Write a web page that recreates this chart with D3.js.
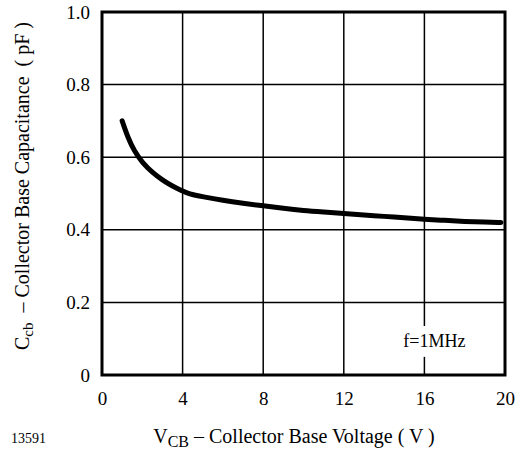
<!DOCTYPE html>
<html>
<head>
<meta charset="utf-8">
<script src="https://cdn.jsdelivr.net/npm/d3@7"></script>
<style>
  html, body { margin: 0; padding: 0; background: #fff; }
</style>
</head>
<body>
<div id="chart"></div>
<script>
// Data
const vcb = [1, 1.3, 1.6, 2, 2.5, 3, 3.5, 4, 4.3, 5, 6, 7, 8, 9, 10, 11, 12, 13, 14, 15, 16, 17, 18, 19, 19.8];
const ccb = [0.70, 0.652, 0.617, 0.585, 0.558, 0.537, 0.52, 0.507, 0.499, 0.491, 0.481, 0.473, 0.466, 0.459, 0.453, 0.449, 0.445, 0.441, 0.437, 0.433, 0.429, 0.426, 0.423, 0.421, 0.42];
const xTicks = [0, 4, 8, 12, 16, 20];
const yTicks = [0, 0.2, 0.4, 0.6, 0.8, 1.0];
const yTickLabels = ['0', '0.2', '0.4', '0.6', '0.8', '1.0'];

const FONT = '"Liberation Serif", "Times New Roman", Times, "DejaVu Serif", serif';

const width = 524, height = 452;
const margin = { top: 12, right: 19, bottom: 77, left: 102 };

const svg = d3.select('#chart')
  .append('svg')
  .attr('width', width)
  .attr('height', height)
  .style('font-family', FONT);

const x = d3.scaleLinear().domain([0, 20]).range([margin.left, width - margin.right]);
const y = d3.scaleLinear().domain([0, 1]).range([height - margin.bottom, margin.top]);

// grid
svg.append('g')
  .selectAll('line')
  .data(xTicks.slice(1, -1))
  .enter()
  .append('line')
  .attr('x1', (d) => x(d)).attr('x2', (d) => x(d))
  .attr('y1', y(0)).attr('y2', y(1))
  .attr('stroke', '#000')
  .attr('stroke-width', 1.5);

svg.append('g')
  .selectAll('line')
  .data(yTicks.slice(1, -1))
  .enter()
  .append('line')
  .attr('x1', x(0)).attr('x2', x(20))
  .attr('y1', (d) => y(d)).attr('y2', (d) => y(d))
  .attr('stroke', '#000')
  .attr('stroke-width', 1.5);

// f=1MHz label with white backing
const note = svg.append('g');
note.append('rect')
  .attr('x', x(14.8)).attr('y', y(0.135))
  .attr('width', x(18.7) - x(14.8)).attr('height', y(0.05) - y(0.135))
  .attr('fill', '#fff');
note.append('text')
  .attr('x', x(14.95)).attr('y', y(0.076))
  .style('font-family', FONT)
  .attr('font-size', 18)
  .text('f=1MHz');

// frame
svg.append('rect')
  .attr('x', x(0)).attr('y', y(1))
  .attr('width', x(20) - x(0)).attr('height', y(0) - y(1))
  .attr('fill', 'none')
  .attr('stroke', '#000')
  .attr('stroke-width', 3);

// curve
const line = d3.line()
  .x((d, i) => x(vcb[i]))
  .y((d) => y(d))
  .curve(d3.curveBasis);

svg.append('path')
  .datum(ccb)
  .attr('d', line)
  .attr('fill', 'none')
  .attr('stroke', '#000')
  .attr('stroke-width', 5)
  .attr('stroke-linecap', 'round');

// axes labels
const xAxis = d3.axisBottom(x).tickValues(xTicks).tickSize(0).tickPadding(17);
svg.append('g')
  .attr('transform', 'translate(0,' + y(0) + ')')
  .call(xAxis)
  .attr('font-family', null)
  .call((g) => g.select('.domain').remove())
  .selectAll('text')
  .style('font-family', FONT)
  .attr('font-size', 19);

const yAxis = d3.axisLeft(y).tickValues(yTicks).tickSize(0).tickPadding(12)
  .tickFormat((d, i) => yTickLabels[i]);
svg.append('g')
  .attr('transform', 'translate(' + x(0) + ',0)')
  .call(yAxis)
  .attr('font-family', null)
  .call((g) => g.select('.domain').remove())
  .selectAll('text')
  .style('font-family', FONT)
  .attr('font-size', 19);

// x title
const xt = svg.append('text')
  .attr('x', 294).attr('y', 443)
  .attr('text-anchor', 'middle')
  .style('font-family', FONT)
  .attr('font-size', 20);
xt.append('tspan').text('V');
xt.append('tspan').attr('font-size', 16).attr('dy', 4).text('CB');
xt.append('tspan').attr('dy', -4).text(' \u2013 Collector Base Voltage ( V )');

// figure number
svg.append('text')
  .attr('x', 11).attr('y', 443)
  .style('font-family', FONT)
  .attr('font-size', 14)
  .text('13591');

// y title
const yt = svg.append('text')
  .attr('transform', 'translate(29,' + 186 + ') rotate(-90)')
  .attr('text-anchor', 'middle')
  .style('font-family', FONT)
  .attr('font-size', 20);
yt.append('tspan').text('C');
yt.append('tspan').attr('font-size', 15).attr('dy', 4).text('cb');
yt.append('tspan').attr('dy', -4).text('\u00a0\u00a0\u2013 Collector Base Capacitance\u00a0\u00a0( pF )');
</script>
</body>
</html>
